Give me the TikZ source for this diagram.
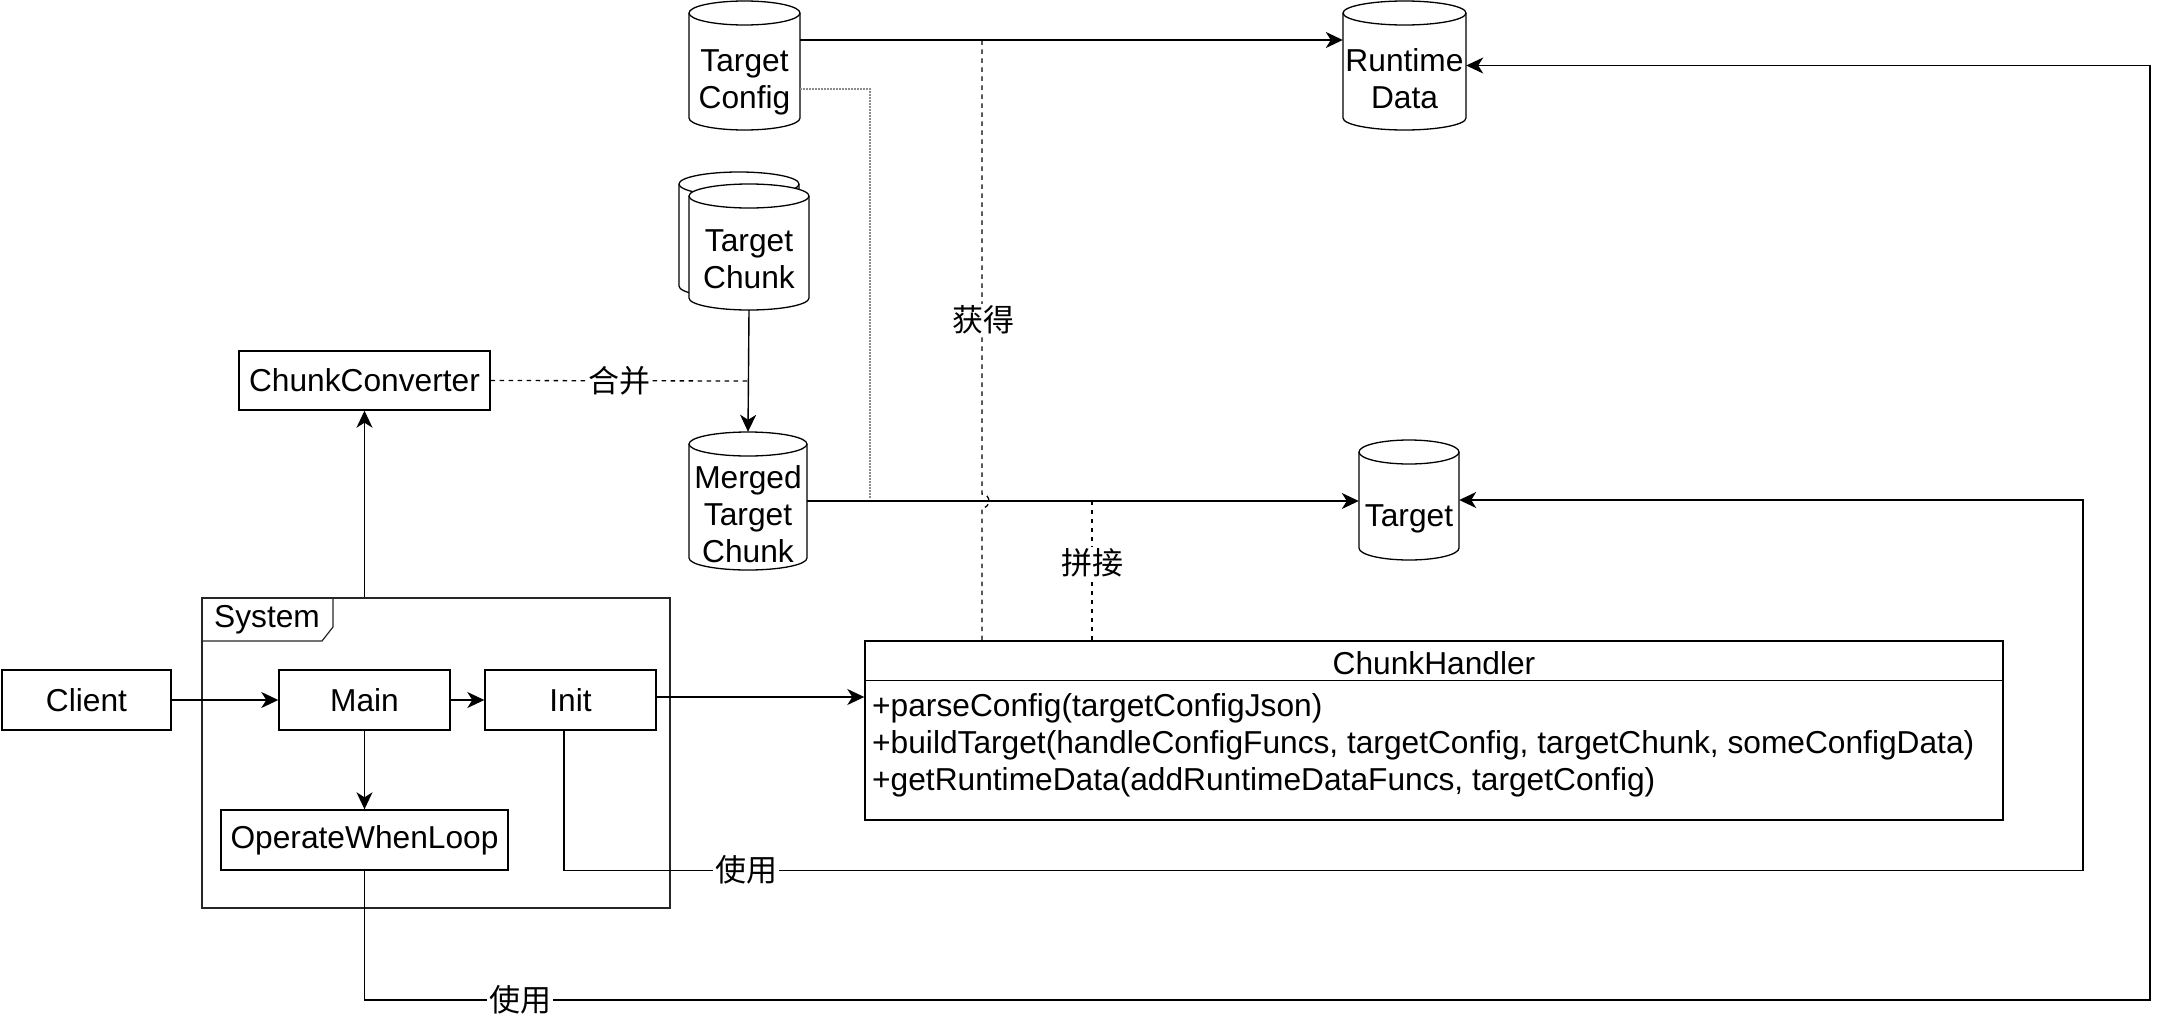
\documentclass[tikz,border=0pt]{standalone}
\usepackage{fontspec}
\setmainfont{Liberation Sans}
\newfontfamily\cjk{Noto Sans CJK SC}
\usetikzlibrary{arrows.meta,calc}
\tikzset{
  txt/.style={font=\fontsize{31.7}{37}\selectfont, inner sep=0pt},
  box/.style={draw, line width=1.4pt, fill=white, inner sep=0pt, font=\fontsize{31.7}{37}\selectfont},
  cylline/.style={draw, line width=1.3pt, fill=white},
  conn/.style={line width=1.4pt},
  arr/.style={line width=1.4pt, -{Stealth[length=17pt,width=16pt,inset=5pt]}},
  dsh/.style={line width=1.3pt, dash pattern=on 4.5pt off 4.5pt},
  dot/.style={line width=1.1pt, black!45, dash pattern=on 1.5pt off 1.5pt},
  lbl/.style={fill=white, inner sep=2pt, font=\cjk\fontsize{31}{36}\selectfont},
}
\newcommand\dbcyl[7]{%
  \pgfmathsetmacro\cylcx{(#2+#4)/2}%
  \pgfmathsetmacro\cylrx{(#4-#2)/2}%
  \pgfmathsetmacro\cylcy{(#3+#5)/2}%
  \pgfmathsetmacro\cylw{#4-#2}%
  \pgfmathsetmacro\cylh{#5-#3}%
  \draw[cylline] (#2,#3+12) -- (#2,#5-12) arc[start angle=180,end angle=360,x radius=\cylrx pt,y radius=12pt] -- (#4,#3+12);
  \draw[cylline] (\cylcx,#3+12) ellipse[x radius=\cylrx pt, y radius=12pt];
  \node[inner sep=0pt, minimum width=\cylw pt, minimum height=\cylh pt] (#1) at (\cylcx,\cylcy) {};
  \node[txt, align=center] (#1-t) at (\cylcx,\cylcy+#7) {#6};
}
\begin{document}
\begin{tikzpicture}[x=1pt,y=-1pt]
\useasboundingbox (0,0) rectangle (2171,1020);

% cylinders
\dbcyl{tc}{689}{1}{800}{130}{Target\\Config}{17}
\dbcyl{rd}{1343}{1}{1466}{130}{Runtime\\Data}{13}
\dbcyl{tchb}{679}{172}{799}{298}{}{0}
\dbcyl{tch}{689}{184}{809}{310}{Target\\Chunk}{12}
\dbcyl{mt}{689}{432}{807}{570}{Merged\\Target\\Chunk}{13}
\dbcyl{tg}{1359}{440}{1459}{560}{Target}{19}

% system frame
\node[draw, line width=1.2pt, black!85, minimum width=468pt, minimum height=310pt, inner sep=0pt] (sys) at (436,753) {};
\draw[line width=1.2pt, black!85] (202,641) -- (322,641) -- (333,627) -- (333,598);
\node[txt] (systxt) at (267,620) {System};

% boxes
\node[box, minimum width=169pt, minimum height=60pt] (cl) at (86.5,700) {Client};
\node[box, minimum width=171pt, minimum height=60pt] (main) at (364.5,700) {Main};
\node[box, minimum width=171pt, minimum height=60pt] (init) at (570.5,700) {Init};
\node[box, minimum width=287pt, minimum height=60pt] (owl) at (364.5,840) {OperateWhenLoop};
\node[box, minimum width=251pt, minimum height=59pt] (cc) at (364.5,380.5) {ChunkConverter};

% chunk handler
\node[box, minimum width=1138pt, minimum height=179pt] (ch) at (1434,730.5) {};
\draw[line width=1.4pt] ($(ch.north west)+(0,40)$) -- ($(ch.north east)+(0,40)$);
\node[txt] (cht) at (1434,663) {ChunkHandler};
\node[txt, anchor=west, align=left, font=\fontsize{31.7}{37}\selectfont] (chm) at (872,745)
  {+parseConfig(targetConfigJson)\\+buildTarget(handleConfigFuncs, targetConfig, targetChunk, someConfigData)\\+getRuntimeData(addRuntimeDataFuncs, targetConfig)};

% coordinates on edges
\coordinate (j1) at (982,40);
\coordinate (j2) at (1092,501);
\coordinate (m1) at (749,381);

% connectors
\draw[arr] ([yshift=25.5pt]tc.east) -- ([yshift=25.5pt]rd.west);
\draw[dot] ([yshift=-23.5pt]tc.east) -| (870,499);
\draw[arr] (mt.east) -- (mt.east -| tg.west);
\draw[arr] (tch.south) -- (mt.north);
\draw[dsh] (cc.east) -- (m1);
\draw[dsh] (982,640) -- (982,508) arc[start angle=-90,end angle=90,radius=7pt] -- (j1);
\draw[dsh] (1092,640) -- (j2);
\draw[arr] (cc.south |- sys.north) -- (cc.south);
\draw[arr] (cl.east) -- (main.west);
\draw[arr] (main.east) -- (init.west);
\draw[arr] (main.south) -- (owl.north);
\draw[arr] ([yshift=3pt]init.east) -- ([yshift=3pt]init.east -| ch.west);
\draw[arr] ([xshift=-6.5pt]init.south) -- ++(0,140) -| (2083,500) -- (tg.east);
\draw[arr] (owl.south) -- (364.5,1000) -| (2150,65.5) -- (rd.east);

% labels
\node[lbl] (l1) at (619,381) {合并};
\node[lbl] (l2) at (983,320) {获得};
\node[lbl] (l3) at (1092,563) {拼接};
\node[lbl] (l4) at (746,870) {使用};
\node[lbl] (l5) at (520,1000) {使用};
\end{tikzpicture}
\end{document}
